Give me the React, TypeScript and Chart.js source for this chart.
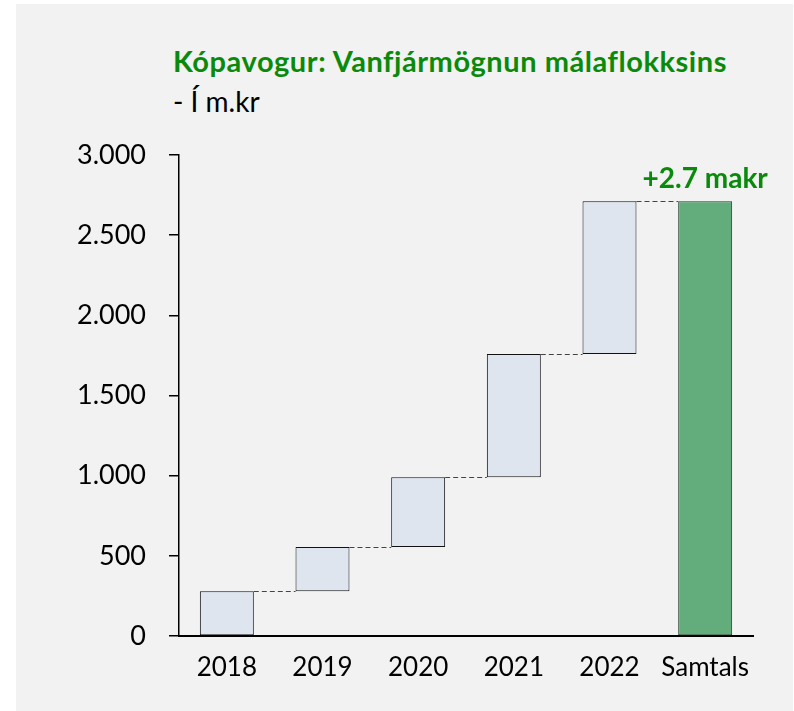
import React, { useEffect, useRef } from "react";
import { Chart, registerables } from "chart.js";

Chart.register(...registerables);

const categories = ["2018", "2019", "2020", "2021", "2022", "Samtals"];
const increments = [279, 276, 435, 769, 952];
const totalLabel = "+2.7 makr";
const titleText = "Kópavogur: Vanfjármögnun málaflokksins";
const subtitleText = "- Í m.kr";
const yTicks = [0, 500, 1000, 1500, 2000, 2500, 3000];

const FONT = "Lato, 'Open Sans', sans-serif";
const GREEN_TEXT = "#0A8A0A";

function buildFloating(): [number, number][] {
  const out: [number, number][] = [];
  let run = 0;
  for (const v of increments) {
    out.push([run, run + v]);
    run += v;
  }
  out.push([0, run]);
  return out;
}

const connectorPlugin = {
  id: "connectors",
  afterDatasetsDraw(chart: any) {
    const meta = chart.getDatasetMeta(0);
    const ds = chart.data.datasets[0].data as [number, number][];
    const y = chart.scales.y;
    const ctx = chart.ctx;
    ctx.save();
    ctx.strokeStyle = "#444444";
    ctx.lineWidth = 1;
    ctx.setLineDash([5, 3]);
    for (let i = 0; i < ds.length - 1; i++) {
      const a = meta.data[i];
      const b = meta.data[i + 1];
      const val = ds[i][1];
      const py = Math.round(y.getPixelForValue(val)) + 0.5;
      ctx.beginPath();
      ctx.moveTo(a.x + a.width / 2, py);
      ctx.lineTo(b.x - b.width / 2, py);
      ctx.stroke();
    }
    ctx.setLineDash([]);
    const last = meta.data[ds.length - 1];
    const top = y.getPixelForValue(ds[ds.length - 1][1]);
    ctx.fillStyle = GREEN_TEXT;
    ctx.font = `bold 28px ${FONT}`;
    ctx.textAlign = "center";
    ctx.textBaseline = "alphabetic";
    ctx.fillText(totalLabel, last.x, top - 13);
    ctx.restore();
  },
};

export default function App() {
  const ref = useRef<HTMLCanvasElement | null>(null);
  useEffect(() => {
    if (!ref.current) return;
    const data = buildFloating();
    const n = data.length;
    const chart = new Chart(ref.current, {
      type: "bar",
      data: {
        labels: categories,
        datasets: [
          {
            data: data as any,
            backgroundColor: data.map((_, i) => (i === n - 1 ? "#63AD7C" : "#DEE5EF")),
            borderColor: data.map((_, i) => (i === n - 1 ? "#1E3B28" : "#111111")),
            borderWidth: 1,
            borderSkipped: false,
            barPercentage: 0.564,
            categoryPercentage: 1,
          },
        ],
      },
      plugins: [connectorPlugin],
      options: {
        animation: false,
        responsive: false,
        maintainAspectRatio: false,
        layout: { padding: { left: 0, right: 41, top: 155, bottom: 0 } },
        plugins: {
          legend: { display: false },
          tooltip: { enabled: false },
          title: { display: false },
        },
        scales: {
          x: {
            grid: { display: false, drawTicks: false },
            border: { display: true, color: "#000000", width: 2 },
            ticks: {
              color: "#000000",
              font: { family: FONT, size: 26 },
              padding: 16,
              maxRotation: 0,
              autoSkip: false,
            },
            afterFit: (s: any) => {
              s.height = 711 - 636;
            },
          },
          y: {
            min: 0,
            max: 3000,
            afterBuildTicks: (s: any) => {
              s.ticks = yTicks.map((v) => ({ value: v }));
            },
            grid: {
              drawOnChartArea: false,
              drawTicks: true,
              tickLength: 10,
              color: "#000000",
              lineWidth: 1.5,
            },
            border: { display: true, color: "#000000", width: 1.5 },
            ticks: {
              color: "#000000",
              font: { family: FONT, size: 27 },
              padding: 23,
              callback: (v: any) => Number(v).toLocaleString("de-DE"),
            },
            afterFit: (s: any) => {
              s.width = 179;
            },
          },
        },
      },
    });
    return () => chart.destroy();
  }, []);

  return (
    <div style={{ position: "absolute", left: 0, top: 0, width: 794, height: 711, background: "#ffffff" }}>
      <div style={{ position: "absolute", left: 16, top: 4, width: 777, height: 707, background: "#F2F2F2" }} />
      <div
        style={{
          position: "absolute",
          left: 173,
          top: 44,
          fontFamily: FONT,
          fontWeight: 700,
          fontSize: 29,
          letterSpacing: "0.55px",
          color: GREEN_TEXT,
          lineHeight: "34px",
          whiteSpace: "nowrap",
        }}
      >
        {titleText}
      </div>
      <div
        style={{
          position: "absolute",
          left: 173,
          top: 84,
          fontFamily: FONT,
          fontSize: 28,
          color: "#000000",
          lineHeight: "34px",
          whiteSpace: "nowrap",
        }}
      >
        {subtitleText}
      </div>
      <canvas ref={ref} width={794} height={711} style={{ position: "absolute", left: 0, top: 0, width: 794, height: 711 }} />
    </div>
  );
}
